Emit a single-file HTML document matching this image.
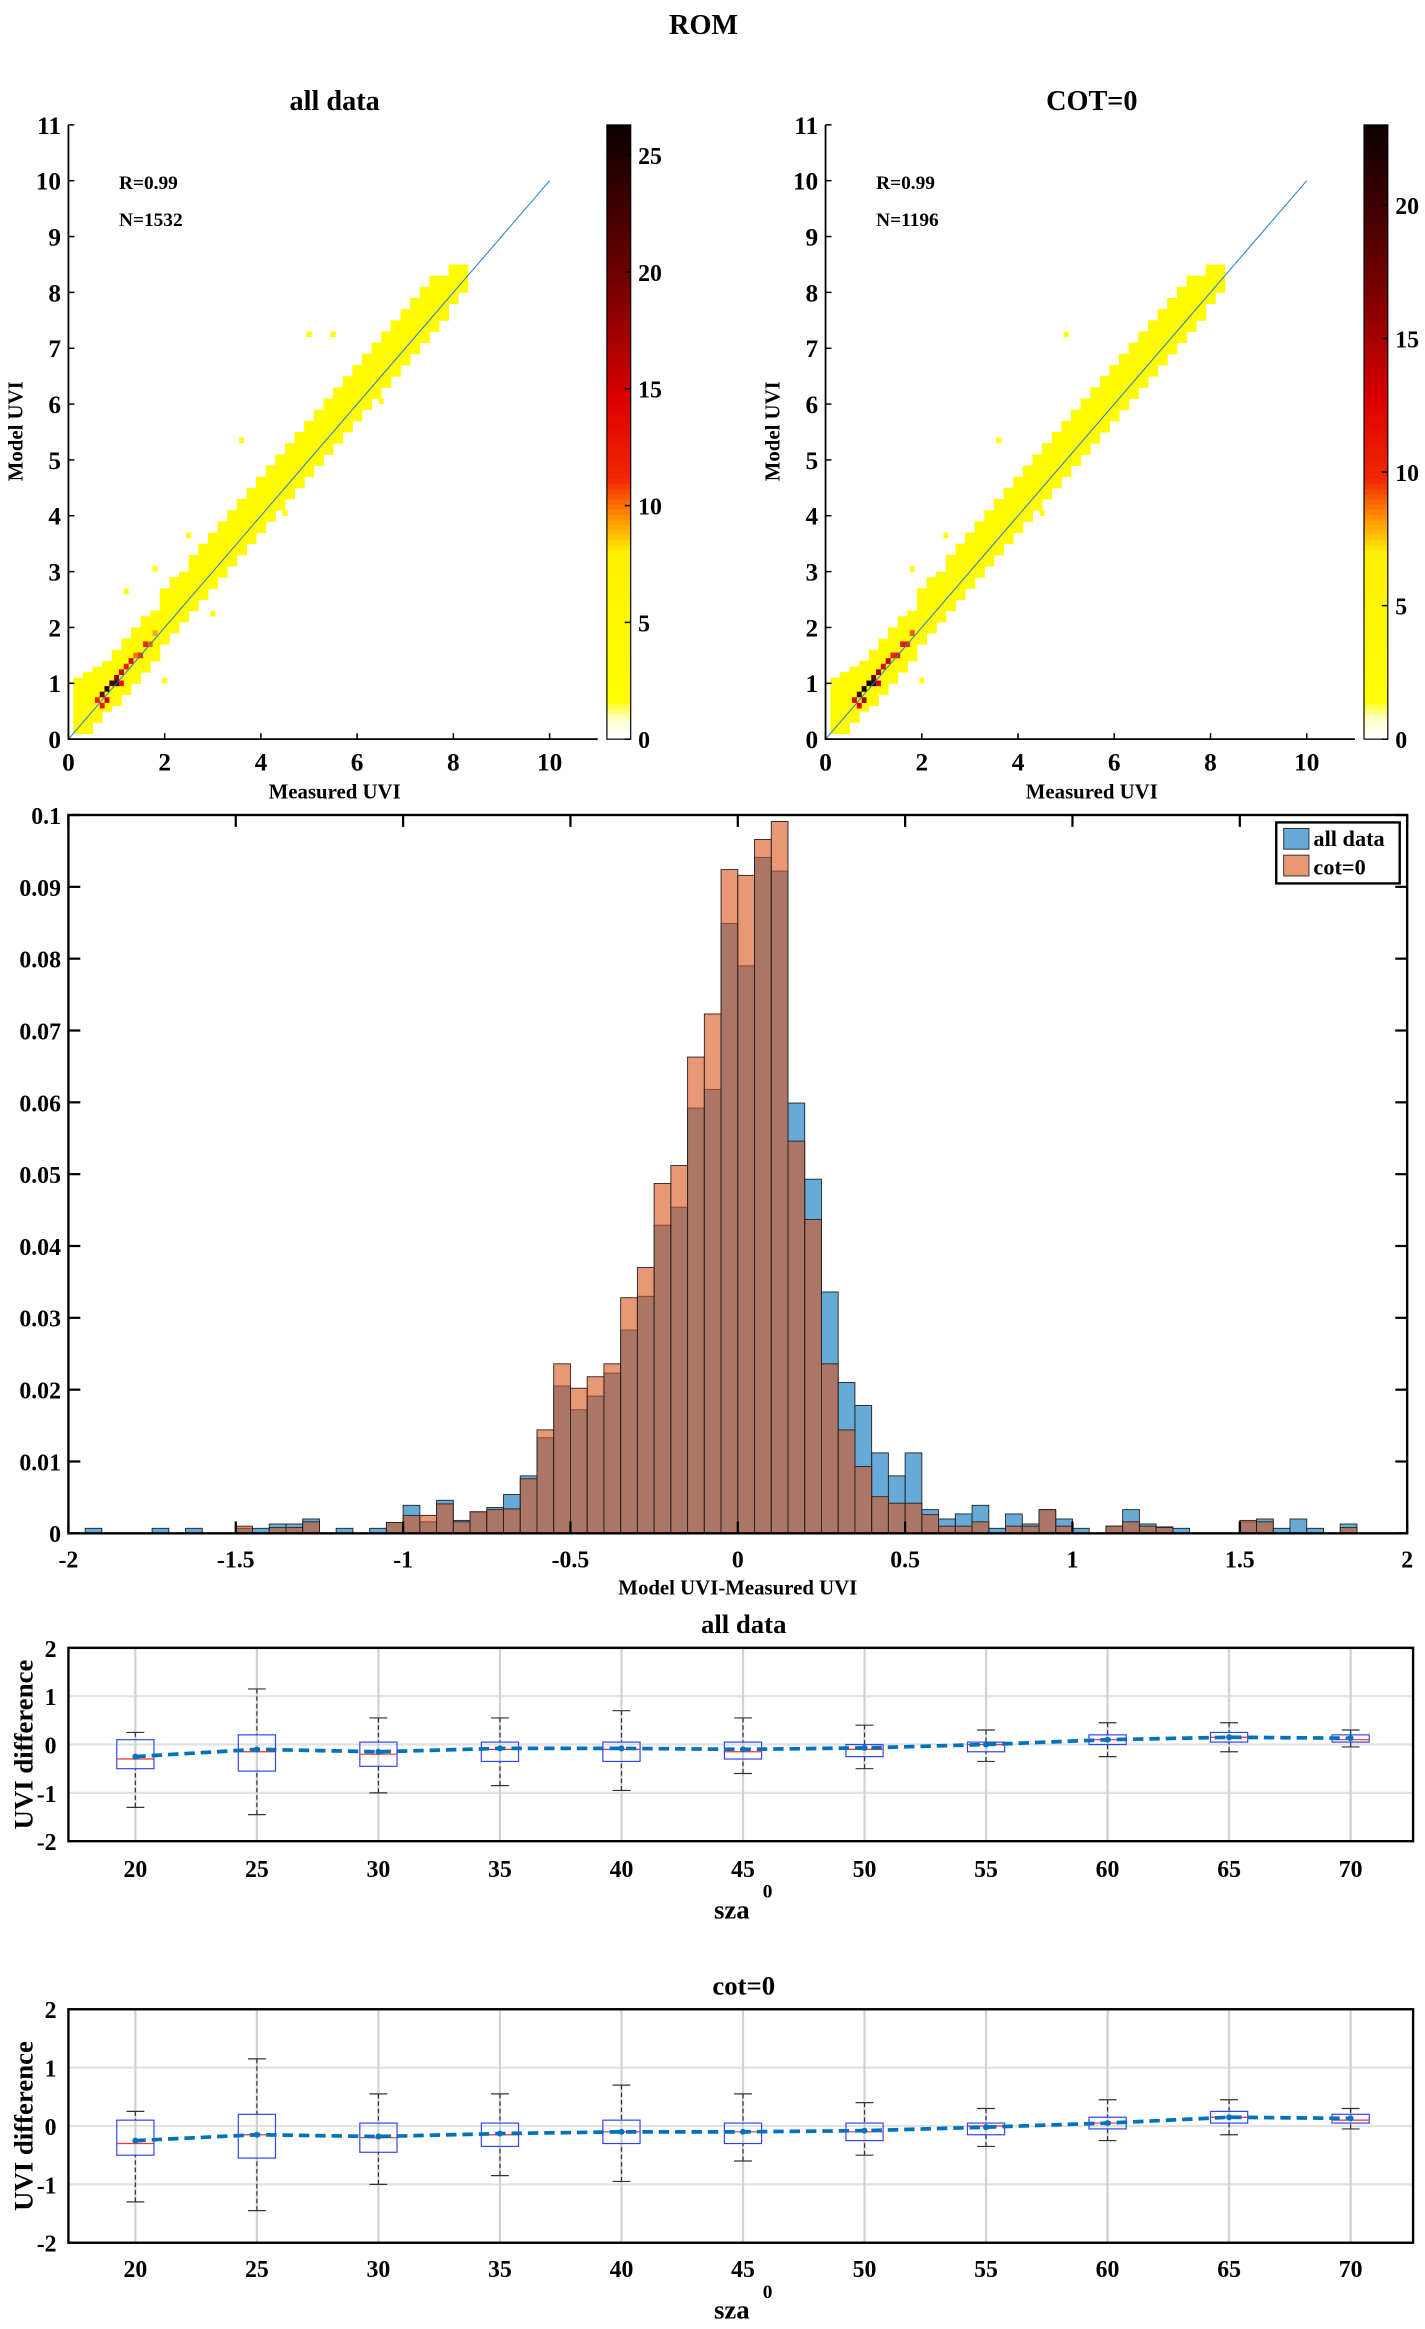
<!DOCTYPE html>
<html><head><meta charset="utf-8"><style>
html,body{margin:0;padding:0;background:#fff;}
svg{display:block;font-family:"Liberation Serif",serif;font-weight:bold;}
</style></head><body>
<svg id="fig" width="1425" height="2329" viewBox="0 0 958 1566" preserveAspectRatio="none" xmlns="http://www.w3.org/2000/svg">
<text x="473" y="23" text-anchor="middle" font-size="19">ROM</text>
</svg>
<script>
// ---------- scatter density data ----------
const colX  = [0.2,0.4,0.6,0.8,1.0,1.2,1.4,1.6,1.8,2.0,2.2,2.4,2.6,2.8,3.0,3.2,3.4,3.6,3.8,4.0,4.2,4.4,4.6,4.8,5.0,5.2,5.4,5.6,5.8,6.0,6.2,6.4,6.6,6.8,7.0,7.2,7.4,7.6,7.8,8.0,8.2];
const bandLo= [0.1,0.1,0.3,0.5,0.6,0.8,1.0,1.2,1.4,1.7,1.9,2.1,2.3,2.5,2.7,2.9,3.1,3.3,3.5,3.7,3.9,4.1,4.3,4.5,4.7,4.9,5.1,5.3,5.5,5.7,5.9,6.1,6.3,6.5,6.7,6.9,7.1,7.3,7.5,7.8,8.0];
const bandHi= [1.1,1.2,1.3,1.4,1.6,1.8,2.0,2.2,2.3,2.7,2.9,3.0,3.3,3.5,3.7,3.9,4.1,4.3,4.5,4.7,4.9,5.1,5.3,5.5,5.7,5.9,6.1,6.3,6.5,6.7,6.9,7.1,7.3,7.5,7.7,7.9,8.1,8.3,8.3,8.5,8.5];
const hotX  = [0.6,0.7,0.8,0.9,1.0,1.1,1.2,1.3,1.4,1.5,1.6,1.7,1.8,0.8,1.0,0.7,1.1];
const hotY  = [0.7,0.8,0.9,1.0,1.1,1.2,1.3,1.4,1.5,1.5,1.7,1.7,1.9,0.7,1.0,0.6,1.0];
const hotN  = [12,20,25,22,18,15,12,14,10,11,11,10,9,15,25,12,13];
const outX  = [1.8,2.5,3.6,5.0,4.5,2.0,5.5,6.5,1.2,3.0];
const outY  = [3.0,3.6,5.3,7.2,4.0,1.0,7.2,6.0,2.6,2.2];
const scatterStats = [["R=0.99","N=1532"],["R=0.99","N=1196"]];
const scatterTitles = ["all data","COT=0"];
const cbarMax = [26.3,23];
const cbarTicks = [[0,5,10,15,20,25],[0,5,10,15,20]];

// ---------- histogram data (bin left edges -2..1.95, width 0.05) ----------
const binW = 0.05;
const histAll = [0,.0007,0,0,0,.0007,0,.0007,0,0,.0007,.0007,.0013,.0013,.002,0,.0007,0,.0007,.0015,
 .0039,.0016,.0046,.0018,.0030,.0036,.0054,.008,.0133,.0205,.0172,.0191,.0223,.0283,.033,.0429,.0454,.0592,.0618,.0849,
 .079,.0941,.0922,.0599,.0493,.0336,.021,.0178,.0112,.008,.0112,.0033,.002,.0027,.0039,.0007,.0027,.0013,.0033,.002,
 .0007,0,.001,.0033,.0013,.0009,.0007,0,0,0,.0016,.002,.0007,.002,.0007,0,.0013,0,0,0];
const histCot = [0,0,0,0,0,0,0,0,0,0,.001,0,.0008,.0008,.0016,0,0,0,0,.0015,
 .0025,.0025,.0041,.0016,.0030,.0033,.0034,.0076,.0144,.0236,.0202,.0218,.0236,.0328,.037,.0487,.0512,.0663,.0723,.0924,
 .0916,.0966,.0991,.0546,.0437,.0236,.0144,.0093,.0051,.0042,.0042,.0026,.001,.001,.0016,0,.001,.001,.0033,.001,
 0,0,.001,.0016,.001,.0008,0,0,0,0,.0018,.0016,0,0,0,0,.0008,0,0,0];
const histYTicks = [0,0.01,0.02,0.03,0.04,0.05,0.06,0.07,0.08,0.09,0.1];
const histXTicks = [-2,-1.5,-1,-0.5,0,0.5,1,1.5,2];

// ---------- box plot data ----------
const sza = [20,25,30,35,40,45,50,55,60,65,70];
const b1Lo  = [-1.3,-1.45,-1.0,-0.85,-0.95,-0.6,-0.5,-0.35,-0.25,-0.15,-0.05];
const b1Q1  = [-0.5,-0.55,-0.45,-0.35,-0.35,-0.3,-0.25,-0.15,0.0,0.05,0.05];
const b1Med = [-0.3,-0.15,-0.2,-0.1,-0.1,-0.15,-0.1,0.0,0.1,0.15,0.1];
const b1Q3  = [0.1,0.2,0.05,0.05,0.05,0.05,0.0,0.05,0.2,0.25,0.2];
const b1Hi  = [0.25,1.15,0.55,0.55,0.7,0.55,0.4,0.3,0.45,0.45,0.3];
const b1Mean= [-0.25,-0.1,-0.15,-0.08,-0.08,-0.1,-0.07,0.0,0.1,0.15,0.13];
const b2Lo  = [-1.3,-1.45,-1.0,-0.85,-0.95,-0.6,-0.5,-0.35,-0.25,-0.15,-0.05];
const b2Q1  = [-0.5,-0.55,-0.45,-0.35,-0.3,-0.3,-0.25,-0.15,-0.05,0.05,0.05];
const b2Med = [-0.3,-0.15,-0.2,-0.15,-0.1,-0.1,-0.1,0.0,0.05,0.15,0.1];
const b2Q3  = [0.1,0.2,0.05,0.05,0.1,0.05,0.05,0.05,0.15,0.25,0.2];
const b2Hi  = [0.25,1.15,0.55,0.55,0.7,0.55,0.4,0.3,0.45,0.45,0.3];
const b2Mean= [-0.25,-0.15,-0.18,-0.13,-0.1,-0.1,-0.08,-0.02,0.05,0.15,0.13];
const boxYTicks = [-2,-1,0,1,2];

const NS="http://www.w3.org/2000/svg";
const svg=document.getElementById('fig');
function mk(tag,attrs,parent){const e=document.createElementNS(NS,tag);for(const k in attrs)e.setAttribute(k,attrs[k]);(parent||svg).appendChild(e);return e;}
function txt(x,y,s,size,anchor,parent){const t=mk('text',{x:x,y:y,'font-size':size,'text-anchor':anchor||'middle'},parent);t.textContent=s;return t;}

function hotColor(v,max){
  const f=Math.min(1,v/max);
  const stops=[[0,[255,255,255]],[0.03,[255,255,200]],[0.06,[255,255,0]],[0.3,[255,240,0]],[0.36,[255,140,0]],[0.42,[240,40,0]],[0.55,[220,0,0]],[0.75,[110,0,0]],[1,[10,0,0]]];
  for(let i=1;i<stops.length;i++){if(f<=stops[i][0]){const a=stops[i-1],b=stops[i];const t=(f-a[0])/(b[0]-a[0]);const c=a[1].map((q,j)=>Math.round(q+(b[1][j]-q)*t));return 'rgb('+c.join(',')+')';}}
  return 'rgb(10,0,0)';
}

// ---------- scatter panels ----------
function scatter(idx,x0){
  const g=mk('g',{});
  
  
  const sx=v=>x0+v*32.35, sy=v=>497-v*37.55;
  const cells=mk('g',{},g);
  
  
  const max=cbarMax[idx];
  for(let i=0;i<colX.length;i++){
    for(let y=bandLo[i];y<bandHi[i]-0.001;y+=0.1){
      const c=mk('rect',{x:sx(colX[i]-0.1),y:sy(y+0.1),width:32.35*0.2+0.3,height:37.55*0.1+0.3,fill:hotColor(3,max)},cells);
      
      
    }
  }
  const nOut=idx?6:outX.length;
  for(let i=0;i<nOut;i++){
    const c=mk('rect',{x:sx(outX[i]-0.05),y:sy(outY[i]+0.1),width:3.3,height:3.8,fill:hotColor(2,max)},cells);
    
    
  }
  for(let i=0;i<hotX.length;i++){
    const c=mk('rect',{x:sx(hotX[i]-0.05),y:sy(hotY[i]+0.05),width:3.3,height:3.8,fill:hotColor(hotN[i],max)},cells);
    
    
  }
  const l=mk('line',{x1:sx(0),y1:sy(0),x2:sx(10),y2:sy(10),stroke:'#2a7fc9','stroke-width':0.7},g);
  
  
  const ax=mk('path',{d:`M${sx(0)},${sy(11)} V${sy(0)} H${sx(11)}`,fill:'none',stroke:'#000','stroke-width':1.2},g);
  
  
  for(let v=0;v<=11;v++){
    mk('line',{x1:sx(0),y1:sy(v),x2:sx(0)+4,y2:sy(v),stroke:'#000'},g);
    const t=txt(sx(0)-5,sy(v)+6,String(v),17,'end',g);
    
    
  }
  for(let v=0;v<=10;v+=2){
    mk('line',{x1:sx(v),y1:sy(0),x2:sx(v),y2:sy(0)-4,stroke:'#000'},g);
    const t=txt(sx(v),518,String(v),17,'middle',g);
    
    
  }
  const ti=txt(x0+179,74,scatterTitles[idx],19,'middle',g);
  
  
  const xl=txt(x0+179,537,'Measured UVI',14,'middle',g);
  
  
  const yl=txt(0,0,'Model UVI',14,'middle',g);
  yl.setAttribute('transform',`translate(${x0-31},290) rotate(-90)`);
  
  
  const r=txt(x0+34,127,scatterStats[idx][0],13,'start',g);
  
  
  const n=txt(x0+34,152,scatterStats[idx][1],13,'start',g);
  
  
  const cb=mk('g',{},g);
  
  
  const cx=x0+362, top=84, bot=497;
  for(let k=0;k<120;k++){
    const v0=k/120*max;
    mk('rect',{x:cx,y:bot-(k+1)/120*(bot-top),width:16,height:(bot-top)/120+0.5,fill:hotColor(v0,max)},cb);
  }
  mk('rect',{x:cx,y:top,width:16,height:bot-top,fill:'none',stroke:'#000','stroke-width':0.8},cb);
  cbarTicks[idx].forEach(v=>{
    const y=bot-v/max*(bot-top);
    mk('line',{x1:cx+16,y1:y,x2:cx+12,y2:y,stroke:'#000'},cb);
    const t=txt(cx+21,y+6,String(v),16,'start',cb);
    
    
  });
}
scatter(0,46);
scatter(1,555);

// ---------- histogram ----------
(function(){
  const g=mk('g',{});
  
  
  const L=46,R=946,T=548,B=1031;
  const sx=v=>L+(v+2)/4*(R-L), sy=v=>B-v/0.1*(B-T);
  for(let i=0;i<histAll.length;i++){
    if(histAll[i]>0){
      const e=-2+i*binW;
      const r=mk('rect',{x:sx(e),y:sy(histAll[i]),width:sx(e+binW)-sx(e),height:B-sy(histAll[i]),fill:'#0072BD','fill-opacity':0.6,stroke:'#222','stroke-width':0.6},g);
      
      
    }
  }
  for(let i=0;i<histCot.length;i++){
    if(histCot[i]>0){
      const e=-2+i*binW;
      const r=mk('rect',{x:sx(e),y:sy(histCot[i]),width:sx(e+binW)-sx(e),height:B-sy(histCot[i]),fill:'#D95319','fill-opacity':0.6,stroke:'#222','stroke-width':0.6},g);
      
      
    }
  }
  const box=mk('rect',{x:L,y:T,width:R-L,height:B-T,fill:'none',stroke:'#000','stroke-width':1.6},g);
  
  
  histYTicks.forEach(v=>{
    mk('line',{x1:L,y1:sy(v),x2:L+8,y2:sy(v),stroke:'#000','stroke-width':1.5},g);
    mk('line',{x1:R,y1:sy(v),x2:R-8,y2:sy(v),stroke:'#000','stroke-width':1.5},g);
    const t=txt(L-5,sy(v)+6,String(v),16,'end',g);
    
    
  });
  histXTicks.forEach(v=>{
    mk('line',{x1:sx(v),y1:B,x2:sx(v),y2:B-8,stroke:'#000','stroke-width':1.5},g);
    mk('line',{x1:sx(v),y1:T,x2:sx(v),y2:T+8,stroke:'#000','stroke-width':1.5},g);
    const t=txt(sx(v),1054,String(v),16,'middle',g);
    
    
  });
  const xl=txt(496,1072,'Model UVI-Measured UVI',14,'middle',g);
  
  
  const lg=mk('g',{},g);
  
  
  mk('rect',{x:858,y:553,width:83,height:41,fill:'#fff',stroke:'#000','stroke-width':1.6},lg);
  const e1=mk('rect',{x:863,y:557,width:17,height:14,fill:'#0072BD','fill-opacity':0.6,stroke:'#222','stroke-width':0.6},lg);
  
  
  const e2=mk('rect',{x:863,y:575,width:17,height:14,fill:'#D95319','fill-opacity':0.6,stroke:'#222','stroke-width':0.6},lg);
  
  
  const t1=txt(883,569,'all data',15,'start',lg);
  
  
  const t2=txt(883,588,'cot=0',15,'start',lg);
  
  
})();

// ---------- box plots ----------
function boxPanel(name,title,T,B,lo,q1,med,q3,hi,mean,titleY,tickY){
  const g=mk('g',{});
  
  
  const L=46,R=950;
  const sx=v=>91+(v-20)/5*81.7, sy=v=>T+(2-v)/4*(B-T);
  boxYTicks.forEach(v=>{
    const gl=mk('line',{x1:L,y1:sy(v),x2:R,y2:sy(v),stroke:'#e2e2e2','stroke-width':1.5},g);
    
    
    const t=txt(L-8,sy(v)+6,String(v),16,'end',g);
    
    
  });
  sza.forEach(v=>{
    mk('line',{x1:sx(v),y1:T,x2:sx(v),y2:B,stroke:'#d2d2d2','stroke-width':1.5},g);
    const t=txt(sx(v),tickY,String(v),16,'middle',g);
    
    
  });
  const hw=12.5;
  for(let i=0;i<sza.length;i++){
    const x=sx(sza[i]);
    const bx=mk('g',{},g);
    
    
    mk('line',{x1:x,y1:sy(hi[i]),x2:x,y2:sy(q3[i]),stroke:'#333','stroke-dasharray':'3,2','stroke-width':0.8},bx);
    mk('line',{x1:x,y1:sy(lo[i]),x2:x,y2:sy(q1[i]),stroke:'#333','stroke-dasharray':'3,2','stroke-width':0.8},bx);
    mk('line',{x1:x-6,y1:sy(hi[i]),x2:x+6,y2:sy(hi[i]),stroke:'#333','stroke-width':0.8},bx);
    mk('line',{x1:x-6,y1:sy(lo[i]),x2:x+6,y2:sy(lo[i]),stroke:'#333','stroke-width':0.8},bx);
    mk('rect',{x:x-hw,y:sy(q3[i]),width:2*hw,height:sy(q1[i])-sy(q3[i]),fill:'none',stroke:'#3344ee','stroke-width':0.8},bx);
    mk('line',{x1:x-hw,y1:sy(med[i]),x2:x+hw,y2:sy(med[i]),stroke:'#ee3333','stroke-width':0.8},bx);
  }
  let d='';
  for(let i=0;i<sza.length;i++) d+=(i?'L':'M')+sx(sza[i])+','+sy(mean[i]);
  const ml=mk('path',{d:d,fill:'none',stroke:'#0072BD','stroke-width':2.5,'stroke-dasharray':'7,4'},g);
  
  
  for(let i=0;i<sza.length;i++){
    const p=mk('circle',{cx:sx(sza[i]),cy:sy(mean[i]),r:2,fill:'#0072BD'},g);
    
    
  }
  const ax=mk('rect',{x:L,y:T,width:R-L,height:B-T,fill:'none',stroke:'#000','stroke-width':1.6},g);
  
  
  const ti=txt(500,titleY,title,18,'middle',g);
  
  
  const xl=txt(492,tickY+28,'sza',18,'middle',g);
  
  
  const sup=txt(516,tickY+14,'0',13,'middle',g);
  
  
  const yl=txt(0,0,'UVI difference',18,'middle',g);
  yl.setAttribute('transform',`translate(22,${(T+B)/2}) rotate(-90)`);
  
  
}
boxPanel('boxplot-all-data','all data',1108,1238,b1Lo,b1Q1,b1Med,b1Q3,b1Hi,b1Mean,1098,1262);
boxPanel('boxplot-cot0','cot=0',1351,1508,b2Lo,b2Q1,b2Med,b2Q3,b2Hi,b2Mean,1341,1531);
</script>
</body></html>
